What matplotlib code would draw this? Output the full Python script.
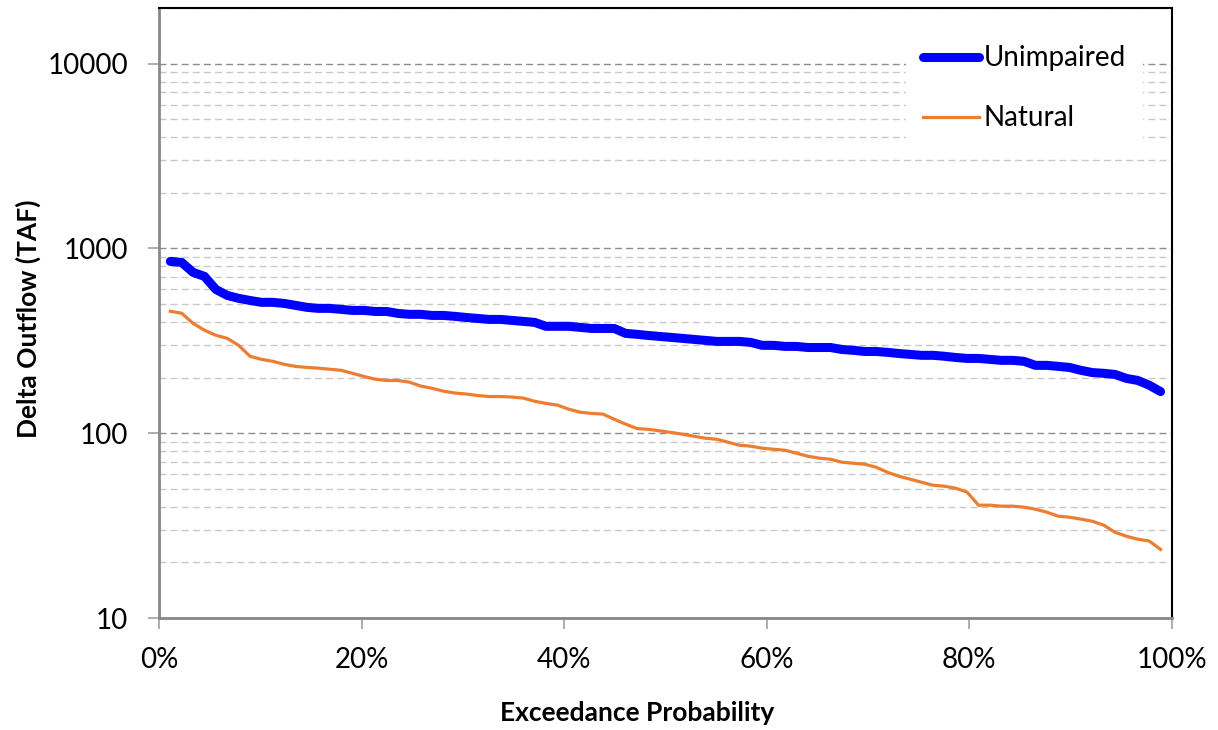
import matplotlib
matplotlib.use("Agg")
from matplotlib import pyplot as plt
from matplotlib.ticker import LogLocator, FixedLocator, NullFormatter, PercentFormatter

# annual delta outflow (TAF), sorted high to low
unimpaired = [851, 840, 742, 706, 600, 557, 537, 523, 511, 511,
              504, 492, 480, 474, 474, 468, 462, 462, 456, 456,
              445, 440, 440, 434, 434, 429, 423, 418, 413, 413,
              408, 403, 398, 379, 379, 379, 374, 369, 369, 369,
              347, 343, 338, 334, 330, 326, 322, 318, 314, 314,
              314, 310, 299, 299, 295, 295, 291, 291, 291, 284,
              281, 277, 277, 274, 270, 267, 264, 264, 261, 257,
              254, 254, 251, 248, 248, 245, 233, 233, 230, 227,
              219, 213, 211, 208, 198, 193, 182, 168]
natural = [457, 446, 393, 361, 339, 326, 299, 261, 251, 245,
           236, 230, 227, 225, 222, 219, 211, 203, 196, 193,
           193, 189, 180, 175, 169, 165, 163, 160, 158, 158,
           157, 155, 149, 145, 142, 135, 130, 128, 127, 119,
           112, 106, 105, 103, 101, 98.8, 96.3, 94.0, 92.8, 89.4,
           86.1, 85.1, 83.0, 81.9, 80.9, 78.0, 75.1, 73.3, 72.3, 69.7,
           68.8, 68.0, 65.5, 61.5, 58.5, 56.4, 54.3, 52.3, 51.7, 50.4,
           48.0, 40.8, 40.8, 40.3, 40.3, 39.8, 38.8, 37.4, 35.6, 35.1,
           34.3, 33.4, 31.8, 29.1, 27.7, 26.7, 26.1, 23.5]

n = len(unimpaired)
exceed = [100.0 * (i + 1) / (n + 1) for i in range(n)]

plt.rcParams['font.family'] = ['Lato', 'DejaVu Sans']

fig = plt.figure(figsize=(12.18, 7.30), dpi=100)
ax = fig.add_axes([0.1305, 0.1534, 0.8317, 0.8356])

ax.plot(exceed, unimpaired, color='#0000FF', lw=6.5, solid_capstyle='round',
        solid_joinstyle='round', label='Unimpaired', zorder=3)
ax.plot(exceed, natural, color='#ED7D31', lw=2.3, solid_joinstyle='round',
        label='Natural', zorder=3)

ax.set_yscale('log')
ax.set_ylim(10, 20000)
ax.set_xlim(0, 100)

ax.yaxis.set_major_locator(FixedLocator([10, 100, 1000, 10000]))
ax.yaxis.set_major_formatter(plt.FuncFormatter(lambda v, p: f"{int(v)}"))
ax.yaxis.set_minor_locator(LogLocator(base=10, subs=range(2, 10)))
ax.yaxis.set_minor_formatter(NullFormatter())
ax.xaxis.set_major_locator(FixedLocator([0, 20, 40, 60, 80, 100]))
ax.xaxis.set_major_formatter(PercentFormatter(decimals=0))

ax.grid(True, which='major', axis='y', color='#8c8c8c', ls=(0, (5, 3)), lw=1)
ax.grid(True, which='minor', axis='y', color='#c8c8c8', ls=(0, (5, 3)), lw=1)
ax.set_axisbelow(True)

ax.tick_params(axis='both', which='major', direction='out', length=8,
               width=1.2, color='#a0a0a0', labelsize=20)
ax.tick_params(axis='y', which='major', pad=14)
ax.tick_params(axis='x', which='major', pad=13)
ax.tick_params(axis='y', which='minor', length=0)

for side in ['left', 'bottom']:
    ax.spines[side].set_color('#888888')
    ax.spines[side].set_linewidth(2)
for side in ['top', 'right']:
    ax.spines[side].set_color('black')
    ax.spines[side].set_linewidth(1.5)

ax.set_xlabel('Exceedance Probability', fontsize=19, fontweight='bold')
ax.set_ylabel('Delta Outflow (TAF)', fontsize=19, fontweight='bold')
ax.xaxis.set_label_coords(0.472, -0.136)
ax.yaxis.set_label_coords(-0.116, 0.49)

leg = ax.legend(loc='upper right', bbox_to_anchor=(0.971, 0.966), borderaxespad=0,
                fontsize=20, frameon=True, facecolor='white', edgecolor='none',
                framealpha=1, fancybox=False, handlelength=2.0, handletextpad=0.18,
                labelspacing=1.22, borderpad=0.6)

fig.savefig('out.png', dpi=100)
